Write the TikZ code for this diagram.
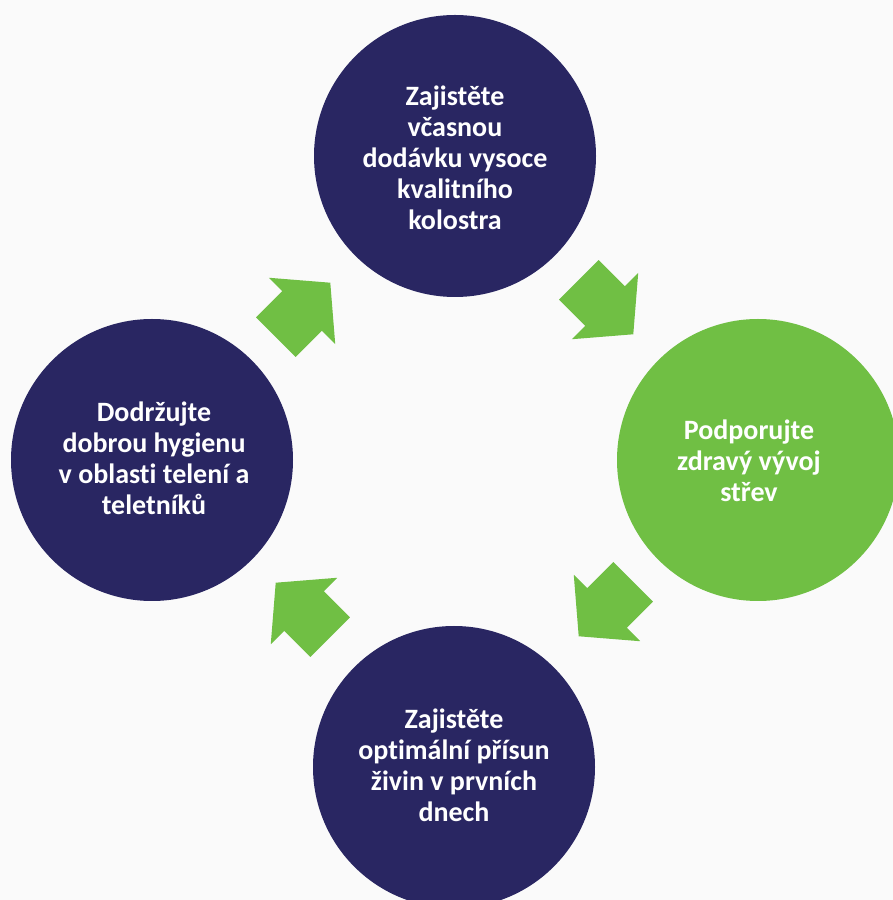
\documentclass[tikz,border=0pt]{standalone}
\usepackage{fontspec}
\setmainfont{Carlito}[Ligatures={NoCommon,NoRare,NoContextual}]
\definecolor{navy}{RGB}{41,38,98}
\definecolor{leaf}{RGB}{112,191,68}
\definecolor{paper}{RGB}{250,250,250}
\begin{document}
\begin{tikzpicture}[x=1pt,y=1pt,
  bubble/.style={circle, minimum size=282pt, inner sep=0pt},
  caption/.style={text=white, align=center, inner sep=0pt,
    font=\fontsize{28}{31}\selectfont\bfseries},
  blockarrow/.pic={\fill[leaf] (-37,-28) -- (0,-28) -- (0,-47) -- (40,0)
    -- (0,47) -- (0,28) -- (-37,28) -- cycle;}]
\fill[paper] (0,0) rectangle (893,900);
\useasboundingbox (0,0) rectangle (893,900);
\node[bubble, fill=navy] (top) at (455,744) {};
\node[caption] (toptext) at (455,742)
  {Zajistěte\\včasnou\\dodávku vysoce\\kvalitního\\kolostra};
\node[bubble, fill=leaf] (right) at (758,440) {};
\node[caption] (righttext) at (749,439)
  {Podporujte\\zdravý vývoj\\střev};
\node[bubble, fill=navy] (bottom) at (454,133) {};
\node[caption] (bottomtext) at (454,135)
  {Zajistěte\\optimální přísun\\živin v prvních\\dnech};
\node[bubble, fill=navy] (left) at (152,440) {};
\node[caption] (lefttext) at (154,442)
  {Dodržujte\\dobrou hygienu\\v oblasti telení a\\teletníků};
\pic[rotate=45] at (302,589) {blockarrow};
\pic[rotate=-45] at (605,594) {blockarrow};
\pic[rotate=-135] at (607,292) {blockarrow};
\pic[rotate=135] at (304,289) {blockarrow};
\end{tikzpicture}
\end{document}
